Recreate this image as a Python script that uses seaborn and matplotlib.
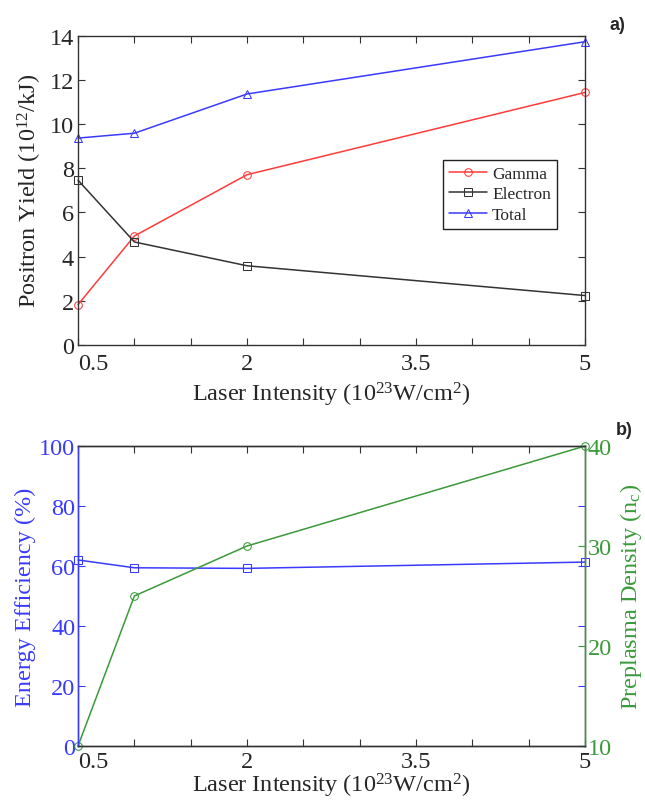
import numpy as np
import pandas as pd
import matplotlib
matplotlib.use("Agg")
import matplotlib.pyplot as plt
import seaborn as sns

# ---- data ----
intensity = [0.5, 1, 2, 5]
gamma = [1.82, 4.93, 7.71, 11.44]
electron = [7.46, 4.66, 3.58, 2.23]
total = [9.37, 9.59, 11.37, 13.74]
efficiency = [62.0, 59.4, 59.2, 61.3]
preplasma = [10, 25, 30, 40]
xticks = [0.5, 1, 1.5, 2, 2.5, 3, 3.5, 4, 4.5, 5]
xtick_labels = ["0.5", "", "", "2", "", "", "3.5", "", "", "5"]
yticks_top = [0, 2, 4, 6, 8, 10, 12, 14]
yticks_eff = [0, 20, 40, 60, 80, 100]
yticks_pre = [10, 20, 30, 40]

sns.set_style("ticks")
plt.rcParams['font.family'] = ['Liberation Serif', 'DejaVu Serif']
plt.rcParams['mathtext.fontset'] = 'custom'
plt.rcParams['mathtext.rm'] = 'Liberation Serif'
plt.rcParams['mathtext.it'] = 'Liberation Serif:italic'
plt.rcParams['xtick.direction'] = 'in'
plt.rcParams['ytick.direction'] = 'in'

fig = plt.figure(figsize=(6.45, 8.04), dpi=100)
ax1 = fig.add_axes([0.121, 0.570, 0.786, 0.384])
ax2 = fig.add_axes([0.121, 0.071, 0.786, 0.373])

C_RED = "#ff3b3b"
C_BLK = "#333333"
C_BLU = "#3a3aff"
C_GRN = "#3a9a3a"
EDGE = "#333333"
FS = 17.5
xlabel = r"Laser Intensity (10$^{23}$W/cm$^{2}$)"

df = pd.DataFrame({"I": intensity, "Gamma": gamma, "Electron": electron, "Total": total,
                   "Eff": efficiency, "Pre": preplasma})

mk = dict(markersize=5.5, markerfacecolor='none', linewidth=1.1, clip_on=False)
sns.lineplot(data=df, x="I", y="Gamma", ax=ax1, color=C_RED, marker='o', markeredgecolor=C_RED, label="Gamma", **mk)
sns.lineplot(data=df, x="I", y="Electron", ax=ax1, color=C_BLK, marker='s', markeredgecolor=C_BLK, label="Electron", **mk)
sns.lineplot(data=df, x="I", y="Total", ax=ax1, color=C_BLU, marker='^', markeredgecolor=C_BLU, label="Total", **mk)

ax1.set_xlim(0.5, 5)
ax1.set_ylim(0, 14)
ax1.set_xticks(xticks)
ax1.set_xticklabels(xtick_labels)
ax1.set_yticks(yticks_top)
ax1.tick_params(axis='x', which='both', top=True, labelsize=FS,
                length=5, width=0.8, color=EDGE, pad=6)
ax1.tick_params(axis='y', which='both', right=True, labelsize=FS,
                length=5, width=0.8, color=EDGE, pad=3)
for s in ax1.spines.values():
    s.set_color(EDGE)
    s.set_linewidth(1.0)
ax1.set_xlabel(xlabel, fontsize=FS, labelpad=4)
ax1.set_ylabel(r"Positron Yield (10$^{12}$/kJ)", fontsize=FS, labelpad=4)
leg = ax1.legend(loc='upper right', bbox_to_anchor=(0.962, 0.628), fontsize=12.5,
                 fancybox=False, edgecolor='#222222', framealpha=1, handlelength=2.2,
                 borderpad=0.35, labelspacing=0.25, handletextpad=0.3)
leg.get_frame().set_linewidth(1.0)

# bottom panel
sns.lineplot(data=df, x="I", y="Eff", ax=ax2, color=C_BLU, marker='s', markeredgecolor=C_BLU, **mk)
ax2b = ax2.twinx()
sns.lineplot(data=df, x="I", y="Pre", ax=ax2b, color=C_GRN, marker='o', markeredgecolor=C_GRN, **mk)

ax2.set_xlim(0.5, 5)
ax2.set_ylim(0, 100)
ax2b.set_ylim(10, 40)
ax2.set_xticks(xticks)
ax2.set_xticklabels(xtick_labels)
ax2.set_yticks(yticks_eff)
ax2b.set_yticks(yticks_pre)
ax2.tick_params(axis='x', top=True, labelsize=FS, length=5, width=0.8, color=EDGE, pad=4)
ax2.tick_params(axis='y', right=True, labelsize=FS, length=5, width=0.8, color=C_BLU,
                labelcolor=C_BLU, pad=2)
ax2b.tick_params(axis='y', labelsize=FS, length=5, width=0.8, color=C_GRN,
                 labelcolor=C_GRN, pad=2)
for name, s in ax2.spines.items():
    s.set_color(EDGE)
    s.set_linewidth(1.0)
ax2.spines['left'].set_color(C_BLU)
for name, s in ax2b.spines.items():
    s.set_linewidth(1.0)
ax2b.spines['right'].set_color(C_GRN)
ax2b.spines['left'].set_color(C_BLU)
ax2b.spines['top'].set_color(EDGE)
ax2b.spines['bottom'].set_color(EDGE)
ax2.set_xlabel(xlabel, fontsize=FS, labelpad=-1)
ax2.set_ylabel("Energy Efficiency (%)", fontsize=FS, color=C_BLU, labelpad=2)
ax2b.set_ylabel(r"Preplasma Density (n$_\mathrm{c}$)", fontsize=FS, color=C_GRN, labelpad=4)

# MATLAB-style first tick label sits just right of the y axis
for ax in (ax1, ax2):
    ax.get_xticklabels()[0].set_horizontalalignment('left')

fig.text(0.957, 0.968, "a)", fontsize=13, fontweight='bold', family='Liberation Sans',
         ha='center', va='center')
fig.text(0.968, 0.465, "b)", fontsize=13, fontweight='bold', family='Liberation Sans',
         ha='center', va='center')

fig.savefig("out.png", dpi=100)
